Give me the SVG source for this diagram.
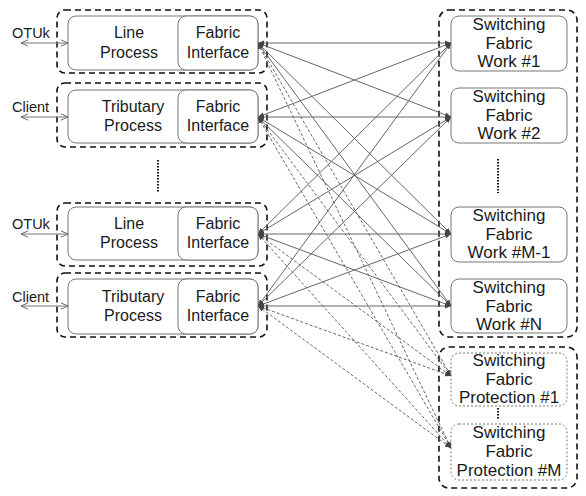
<svg xmlns="http://www.w3.org/2000/svg" width="586" height="496" viewBox="0 0 586 496">
<defs>
<marker id="ah" viewBox="0 0 10 10" refX="10" refY="5" markerWidth="6" markerHeight="6" markerUnits="userSpaceOnUse" orient="auto-start-reverse"><path d="M0,1 L10,5 L0,9 z" fill="#444"/></marker>
<marker id="oa" viewBox="0 0 10 10" refX="10" refY="5" markerWidth="8" markerHeight="8" markerUnits="userSpaceOnUse" orient="auto-start-reverse"><path d="M1,1 L10,5 L1,9" fill="none" stroke="#666" stroke-width="1.2"/></marker>
</defs>
<style>
text{font-family:"Liberation Sans",Arial,sans-serif;font-size:16px;fill:#1a1a1a;text-anchor:middle}
.r text{font-size:17px}
.lbl{font-size:14.5px;text-anchor:start}
.outer{fill:none;stroke:#111;stroke-width:1.6;stroke-dasharray:6 4}
.box{fill:#fff;stroke:#777;stroke-width:1}
.pbox{fill:#fff;stroke:#777;stroke-width:1;stroke-dasharray:2 2}
.sl{stroke:#666;stroke-width:1;fill:none;marker-start:url(#ah);marker-end:url(#ah)}
.dl{stroke:#666;stroke-width:1;fill:none;stroke-dasharray:3 2;marker-start:url(#ah);marker-end:url(#ah)}
.io{stroke:#777;stroke-width:1;marker-start:url(#oa);marker-end:url(#oa)}
.dots{stroke:#111;stroke-width:2;stroke-dasharray:1.5 1.5}
</style>
<rect width="586" height="496" fill="#fff"/>

<g id="left-outer">
<rect class="outer" x="57" y="10" width="210" height="63" rx="8"/>
<rect class="outer" x="57" y="83" width="210" height="64" rx="8"/>
<rect class="outer" x="57" y="203" width="210" height="63" rx="8"/>
<rect class="outer" x="57" y="273" width="210" height="64" rx="8"/>
<line class="dots" x1="158" y1="160" x2="158" y2="193"/>
</g>

<g id="lp1">
<rect class="box" x="68" y="16" width="190" height="54" rx="8"/>
<rect class="box" x="178" y="16" width="80" height="54" rx="8"/>
<text x="129" y="38">Line</text><text x="129" y="58">Process</text>
<text x="218" y="38">Fabric</text><text x="218" y="58">Interface</text>
<text class="lbl" x="12" y="38">OTUk</text>
<line class="io" x1="21" y1="43" x2="68" y2="43"/>
</g>
<g id="tp1">
<rect class="box" x="68" y="90" width="190" height="53" rx="8"/>
<rect class="box" x="178" y="90" width="80" height="53" rx="8"/>
<text x="133" y="112">Tributary</text><text x="133" y="131">Process</text>
<text x="218" y="112">Fabric</text><text x="218" y="131">Interface</text>
<text class="lbl" x="12" y="112">Client</text>
<line class="io" x1="21" y1="117" x2="68" y2="117"/>
</g>
<g id="lp2">
<rect class="box" x="68" y="207" width="190" height="53" rx="8"/>
<rect class="box" x="178" y="207" width="80" height="53" rx="8"/>
<text x="129" y="229">Line</text><text x="129" y="248">Process</text>
<text x="218" y="229">Fabric</text><text x="218" y="248">Interface</text>
<text class="lbl" x="12" y="229">OTUk</text>
<line class="io" x1="21" y1="234" x2="68" y2="234"/>
</g>
<g id="tp2">
<rect class="box" x="68" y="279" width="190" height="55" rx="8"/>
<rect class="box" x="178" y="279" width="80" height="55" rx="8"/>
<text x="133" y="302">Tributary</text><text x="133" y="321">Process</text>
<text x="218" y="302">Fabric</text><text x="218" y="321">Interface</text>
<text class="lbl" x="12" y="302">Client</text>
<line class="io" x1="21" y1="306" x2="68" y2="306"/>
</g>

<g id="right-outer">
<rect class="outer" x="439" y="10" width="138" height="327" rx="10"/>
<rect class="outer" x="439" y="347" width="138" height="141" rx="10"/>
<line class="dots" x1="498" y1="159" x2="498" y2="193"/>
<line class="dots" x1="498" y1="408" x2="498" y2="420"/>
</g>

<g id="sfw1" class="r">
<rect class="box" x="451" y="16" width="116" height="55" rx="8"/>
<text x="509" y="30">Switching</text><text x="509" y="49">Fabric</text><text x="509" y="67">Work #1</text>
</g>
<g id="sfw2" class="r">
<rect class="box" x="451" y="88" width="116" height="55" rx="8"/>
<text x="509" y="102">Switching</text><text x="509" y="121">Fabric</text><text x="509" y="139">Work #2</text>
</g>
<g id="sfwm1" class="r">
<rect class="box" x="451" y="207" width="116" height="55" rx="8"/>
<text x="509" y="221">Switching</text><text x="509" y="240">Fabric</text><text x="509" y="258">Work #M-1</text>
</g>
<g id="sfwn" class="r">
<rect class="box" x="451" y="279" width="116" height="54" rx="8"/>
<text x="509" y="293">Switching</text><text x="509" y="312">Fabric</text><text x="509" y="330">Work #N</text>
</g>
<g id="sfp1" class="r">
<rect class="pbox" x="451" y="353" width="116" height="53" rx="8"/>
<text x="509" y="366">Switching</text><text x="509" y="385">Fabric</text><text x="509" y="403">Protection #1</text>
</g>
<g id="sfpm" class="r">
<rect class="pbox" x="451" y="424" width="116" height="56" rx="8"/>
<text x="509" y="438">Switching</text><text x="509" y="457">Fabric</text><text x="509" y="476">Protection #M</text>
</g>

<g id="connectors">
<line class="sl" x1="258" y1="43" x2="451" y2="43"/>
<line class="sl" x1="258" y1="43" x2="451" y2="117"/>
<line class="sl" x1="258" y1="43" x2="451" y2="234"/>
<line class="sl" x1="258" y1="43" x2="451" y2="306"/>
<line class="sl" x1="258" y1="117" x2="451" y2="43"/>
<line class="sl" x1="258" y1="117" x2="451" y2="117"/>
<line class="sl" x1="258" y1="117" x2="451" y2="234"/>
<line class="sl" x1="258" y1="117" x2="451" y2="306"/>
<line class="sl" x1="258" y1="234" x2="451" y2="43"/>
<line class="sl" x1="258" y1="234" x2="451" y2="117"/>
<line class="sl" x1="258" y1="234" x2="451" y2="234"/>
<line class="sl" x1="258" y1="234" x2="451" y2="306"/>
<line class="sl" x1="258" y1="306" x2="451" y2="43"/>
<line class="sl" x1="258" y1="306" x2="451" y2="117"/>
<line class="sl" x1="258" y1="306" x2="451" y2="234"/>
<line class="sl" x1="258" y1="306" x2="451" y2="306"/>
<line class="dl" x1="258" y1="43" x2="451" y2="376"/>
<line class="dl" x1="258" y1="43" x2="451" y2="448"/>
<line class="dl" x1="258" y1="117" x2="451" y2="376"/>
<line class="dl" x1="258" y1="117" x2="451" y2="448"/>
<line class="dl" x1="258" y1="234" x2="451" y2="376"/>
<line class="dl" x1="258" y1="234" x2="451" y2="448"/>
<line class="dl" x1="258" y1="306" x2="451" y2="376"/>
<line class="dl" x1="258" y1="306" x2="451" y2="448"/>
</g>
</svg>
